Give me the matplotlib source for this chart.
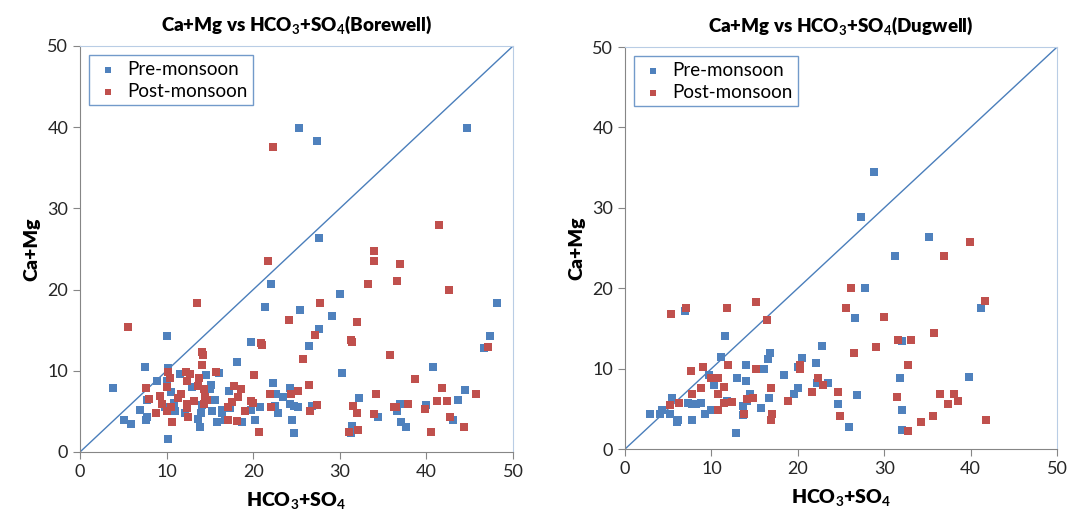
import matplotlib
matplotlib.use("Agg")
import matplotlib.pyplot as plt

plt.rcParams['font.family'] = ['Lato', 'DejaVu Sans']
plt.rcParams['mathtext.fontset'] = 'custom'
plt.rcParams['mathtext.rm'] = 'Lato'
plt.rcParams['mathtext.bf'] = 'Lato:bold'

BLUE = '#4F81BD'
RED = '#C0504D'

# Borewell: (HCO3+SO4, Ca+Mg)
bore_pre_x = [3.85, 5.1, 5.9, 6.9, 7.5, 7.7, 7.6, 7.7, 8.9, 10.1, 10.2, 10.1, 10.2, 10.5, 10.8,
              11.0, 9.8, 11.5, 12.1, 12.9, 13.6, 13.9, 14.0, 14.05, 14.6, 15.1, 15.0, 15.2, 15.6,
              16.0, 15.8, 16.4, 16.4, 16.7, 17.2, 17.3, 18.1, 18.7, 19.8, 19.8, 20.2, 20.8, 21.4,
              22.1, 22.3, 22.6, 22.5, 22.9, 23.4, 24.2, 24.2, 24.5, 24.7, 30.0, 25.4, 29.1, 27.6,
              26.4, 30.2, 25.2, 24.7, 26.75, 32.2, 34.4, 31.4, 31.3, 37.0, 36.6, 37.1, 37.7, 40.0,
              40.8, 43.7, 44.5, 43.1, 46.6, 47.3, 48.1, 25.3, 27.4, 44.65, 27.6]
bore_pre_y = [7.9, 3.9, 3.45, 5.2, 10.5, 6.4, 3.9, 4.3, 8.7, 14.3, 10.3, 8.8, 1.6, 7.4, 6.0,
              5.0, 5.6, 9.6, 4.8, 8.0, 4.1, 3.1, 4.8, 5.8, 9.5, 8.25, 7.8, 5.0, 6.4,
              9.7, 3.65, 5.2, 4.8, 3.9, 7.5, 5.4, 11.1, 3.65, 13.6, 5.2, 3.9, 5.6, 17.9,
              20.7, 8.5, 7.2, 5.7, 4.8, 6.8, 7.9, 5.9, 4.0, 2.3, 19.5, 17.5, 16.75, 15.1,
              13.1, 9.7, 5.5, 5.7, 5.7, 6.7, 4.35, 3.2, 2.3, 5.9, 5.0, 3.65, 3.1, 5.8,
              10.5, 6.4, 7.6, 3.9, 12.8, 14.3, 18.3, 39.9, 38.3, 39.9, 26.3]

bore_post_x = [5.5, 7.6, 8.0, 8.8, 9.2, 9.5, 10.0, 10.2, 10.4, 10.0, 10.5, 10.6, 11.35, 11.7,
               12.2, 12.4, 12.7, 12.4, 12.4, 12.5, 13.2, 13.5, 13.7, 13.6, 14.05, 14.2, 14.1,
               14.35, 14.4, 14.3, 14.7, 15.7, 17.1, 17.1, 17.8, 18.2, 18.6, 17.5, 18.1, 19.05,
               19.8, 20.0, 20.1, 20.7, 20.9, 21.0, 21.7, 21.9, 22.0, 24.1, 24.4, 22.3, 41.4,
               33.9, 33.95, 36.9, 33.3, 36.65, 42.65, 27.7, 32.0, 27.1, 31.3, 31.4, 35.8, 47.15,
               25.8, 38.7, 26.4, 25.2, 41.8, 34.2, 45.7, 27.4, 26.6, 31.5, 32.0, 33.9, 36.3,
               36.5, 37.9, 39.8, 41.2, 42.4, 42.7, 44.3, 31.1, 32.1, 40.5]
bore_post_y = [15.4, 7.9, 6.5, 4.8, 6.9, 5.9, 8.0, 9.9, 9.1, 5.0, 5.6, 3.65, 6.7, 7.1,
               9.9, 8.7, 9.6, 5.9, 5.4, 4.35, 6.3, 18.3, 9.1, 8.1, 12.3, 11.9, 10.7,
               7.8, 6.8, 5.9, 6.4, 9.9, 3.9, 5.6, 8.1, 6.8, 7.7, 6.1, 3.85, 5.0,
               6.3, 6.0, 9.5, 2.5, 13.4, 13.2, 23.5, 7.1, 5.6, 16.3, 7.2, 37.5, 27.9,
               24.8, 23.5, 23.1, 20.7, 21.1, 19.9, 18.3, 16.0, 14.4, 13.75, 13.5, 11.9, 12.9,
               11.5, 8.95, 8.3, 7.5, 7.9, 7.1, 7.2, 5.75, 5.1, 5.7, 4.8, 4.7, 5.5,
               5.6, 5.9, 5.3, 6.3, 6.3, 4.35, 3.1, 2.5, 2.7, 2.5]

# Dugwell
dug_pre_x = [2.9, 4.05, 4.25, 5.2, 5.4, 6.05, 6.1, 6.9, 7.3, 7.7, 8.2, 8.8, 7.75, 9.25, 9.75,
             9.9, 10.3, 11.1, 11.6, 11.8, 12.85, 13.0, 13.6, 13.6, 14.0, 14.0, 14.5, 14.1, 15.7,
             16.1, 16.6, 16.8, 16.7, 18.4, 19.6, 20.05, 20.05, 20.45, 22.1, 22.2, 22.8, 23.5,
             24.6, 31.25, 27.8, 26.6, 32.0, 26.9, 25.9, 31.8, 32.1, 32.0, 39.85, 41.2, 28.85,
             27.3, 35.2]
dug_pre_y = [4.35, 4.35, 4.85, 4.35, 6.3, 3.3, 3.6, 17.2, 5.7, 5.6, 5.6, 5.7, 3.6, 4.4, 9.2,
             4.85, 7.96, 11.5, 14.05, 6.0, 1.95, 8.8, 5.3, 4.2, 10.5, 8.45, 6.9, 6.0, 5.05,
             9.9, 11.15, 12.0, 6.3, 9.2, 6.8, 7.6, 10.25, 11.3, 10.7, 8.2, 12.8, 8.2,
             5.6, 24.0, 20.0, 16.25, 13.4, 6.7, 2.8, 8.8, 4.8, 2.4, 8.9, 17.5, 34.5,
             28.8, 26.4]

dug_post_x = [5.2, 5.3, 6.3, 7.1, 7.6, 7.8, 8.8, 9.0, 10.0, 10.8, 10.7, 11.4, 11.45, 10.7,
              11.8, 11.9, 12.35, 13.8, 14.1, 14.85, 15.2, 16.4, 15.2, 16.9, 17.0, 16.9, 18.9,
              20.2, 20.2, 21.6, 22.3, 22.95, 24.7, 24.9, 36.95, 26.2, 25.6, 30.0, 29.0, 31.6,
              33.1, 35.8, 26.5, 32.7, 31.5, 36.4, 38.1, 38.5, 37.4, 35.6, 34.3, 32.7, 41.8,
              39.9, 41.7]
dug_post_y = [5.5, 16.8, 5.7, 17.6, 9.75, 6.8, 7.55, 10.25, 8.8, 8.8, 6.85, 7.7, 5.7, 4.8,
              17.6, 10.4, 5.8, 4.35, 6.2, 6.4, 18.3, 16.0, 9.95, 7.6, 4.4, 3.6, 6.0,
              10.45, 10.0, 7.1, 8.8, 8.0, 7.1, 4.15, 24.0, 20.0, 17.5, 16.4, 12.7, 13.55,
              13.55, 14.4, 12.0, 10.4, 6.5, 6.9, 6.8, 6.0, 5.6, 4.15, 3.3, 2.2, 3.6,
              25.7, 18.4]

ticks = [0, 10, 20, 30, 40, 50]
xlabel = r'HCO$_\mathbf{3}$+SO$_\mathbf{4}$'

fig = plt.figure(figsize=(10.67, 5.11), dpi=100)
ax1 = fig.add_axes([0.075, 0.1155, 0.4058, 0.7945])
ax2 = fig.add_axes([0.5858, 0.1213, 0.4049, 0.7867])


def draw(ax, pre_x, pre_y, post_x, post_y, title):
    ax.plot([0, 50], [0, 50], color='#4A7EBB', lw=1.0, zorder=1)
    ax.scatter(pre_x, pre_y, marker='s', s=32, color=BLUE, label='Pre-monsoon', zorder=3, linewidths=0)
    ax.scatter(post_x, post_y, marker='s', s=32, color=RED, label='Post-monsoon', zorder=3, linewidths=0)
    ax.set_xlim(0, 50)
    ax.set_ylim(0, 50)
    ax.set_xticks(ticks)
    ax.set_yticks(ticks)
    ax.tick_params(direction='out', length=5, color='#868686', labelsize=13, labelcolor='#262626')
    for s in ['left', 'bottom']:
        ax.spines[s].set_color('#868686')
    for s in ['top', 'right']:
        ax.spines[s].set_color('#B9CDE5')
    ax.set_title(title, fontsize=13.5, fontweight='heavy', pad=11)
    ax.set_xlabel(xlabel, fontsize=14, fontweight='heavy', labelpad=8)
    ax.set_ylabel('Ca+Mg', fontsize=14, fontweight='heavy', labelpad=5)
    leg = ax.legend(loc='upper left', fontsize=13.5, frameon=True, fancybox=False,
                    borderpad=0.3, handletextpad=0.3, labelspacing=0.25, handlelength=1.4,
                    borderaxespad=0.5, markerscale=0.8)
    leg.get_frame().set_edgecolor('#4F81BD')
    leg.get_frame().set_linewidth(1.0)


draw(ax1, bore_pre_x, bore_pre_y, bore_post_x, bore_post_y,
     r'Ca+Mg vs HCO$_\mathbf{3}$+SO$_\mathbf{4}$(Borewell)')
draw(ax2, dug_pre_x, dug_pre_y, dug_post_x, dug_post_y,
     r'Ca+Mg vs HCO$_\mathbf{3}$+SO$_\mathbf{4}$(Dugwell)')

fig.savefig('out.png', dpi=100)
